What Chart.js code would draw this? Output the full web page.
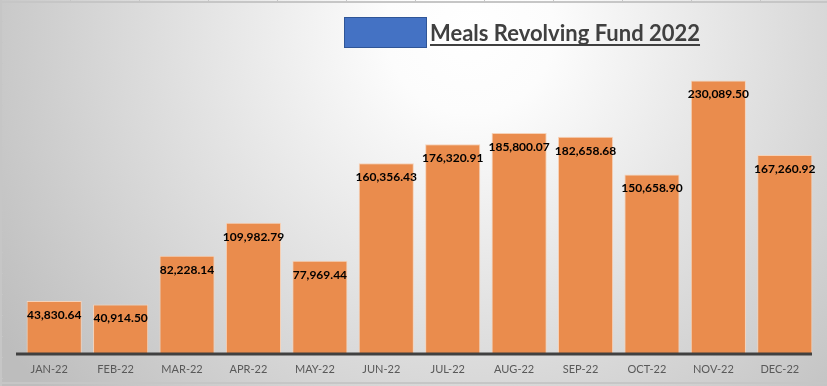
<!DOCTYPE html>
<html>
<head>
<meta charset="utf-8">
<script src="https://cdn.jsdelivr.net/npm/chart.js@4/dist/chart.umd.min.js"></script>
<style>
  html, body { margin: 0; padding: 0; background: #fff; }
  #wrap { width: 827px; height: 386px; position: relative; }
</style>
</head>
<body>
<div id="wrap"><canvas id="fundChart"></canvas></div>
<script>
const months = ['JAN-22', 'FEB-22', 'MAR-22', 'APR-22', 'MAY-22', 'JUN-22',
                'JUL-22', 'AUG-22', 'SEP-22', 'OCT-22', 'NOV-22', 'DEC-22'];
const amounts = [43830.64, 40914.50, 82228.14, 109982.79, 77969.44, 160356.43,
                 176320.91, 185800.07, 182658.68, 150658.90, 230089.50, 167260.92];
const chartTitle = 'Meals Revolving Fund 2022';

// background: soft radial gradient + sheet frame
const backdrop = {
    id: 'backdrop',
    beforeDraw(chart) {
        const c = chart.ctx;
        const w = chart.width, h = chart.height;
        const g = c.createRadialGradient(470, 30, 0, 470, 30, 560);
        g.addColorStop(0, '#ffffff');
        g.addColorStop(0.15, '#fcfcfc');
        g.addColorStop(1, '#bdbdbd');
        c.save();
        c.fillStyle = g;
        c.fillRect(0, 0, w, h);
        // frame lines
        c.strokeStyle = '#c6c6c6';
        c.lineWidth = 2;
        c.beginPath();
        c.moveTo(0, 2); c.lineTo(w, 2);
        c.moveTo(1, 0); c.lineTo(1, h);
        c.moveTo(0, h - 3); c.lineTo(w, h - 3);
        c.stroke();
        // sheet cell ticks peeking at the edges
        c.lineWidth = 1;
        c.beginPath();
        for (let y = 21; y < h - 5; y += 21) { c.moveTo(0, y + 0.5); c.lineTo(3, y + 0.5); }
        for (let x = 70; x < w; x += 69) { c.moveTo(x + 0.5, 0); c.lineTo(x + 0.5, 3); }
        c.stroke();
        c.restore();
    }
};

// title with blue legend box + underline
const titleBox = {
    id: 'titleBox',
    afterDraw(chart) {
        const c = chart.ctx;
        c.save();
        c.fillStyle = '#4472c4';
        c.fillRect(344, 17, 83, 31);
        c.strokeStyle = '#2f5597';
        c.lineWidth = 1;
        c.strokeRect(344.5, 17.5, 82, 30);
        c.font = 'bold 22px Lato';
        c.fillStyle = '#404040';
        c.textBaseline = 'alphabetic';
        c.fillText(chartTitle, 430, 41);
        const tw = c.measureText(chartTitle).width;
        c.fillRect(430, 44, tw, 2);
        c.restore();
    }
};

// axis line under the bars
const baseLine = {
    id: 'baseLine',
    afterDatasetsDraw(chart) {
        const c = chart.ctx;
        const y = chart.scales.y.getPixelForValue(0);
        c.save();
        c.strokeStyle = '#404040';
        c.lineWidth = 3;
        c.beginPath();
        c.moveTo(16, y + 1);
        c.lineTo(812, y + 1);
        c.stroke();
        c.restore();
    }
};

// value labels inside the top of each bar
const barLabels = {
    id: 'barLabels',
    afterDatasetsDraw(chart) {
        const c = chart.ctx;
        const meta = chart.getDatasetMeta(0);
        c.save();
        c.font = 'bold 12px Lato';
        c.fillStyle = '#000000';
        c.textAlign = 'center';
        c.textBaseline = 'middle';
        meta.data.forEach((bar, i) => {
            const v = amounts[i].toLocaleString('en-US', { minimumFractionDigits: 2, maximumFractionDigits: 2 });
            c.fillText(v, bar.x, bar.y + 14);
        });
        c.restore();
    }
};

const ctx = document.getElementById('fundChart');
new Chart(ctx, {
    type: 'bar',
    data: {
        labels: months,
        datasets: [{
            label: chartTitle,
            data: amounts,
            backgroundColor: '#ea8c4d',
            borderColor: '#f6d2b8',
            borderWidth: 1,
            barPercentage: 0.83,
            categoryPercentage: 1.0
        }]
    },
    options: {
        responsive: true,
        maintainAspectRatio: false,
        animation: false,
        layout: {
            padding: { left: 21, right: 9, top: 57, bottom: 0 }
        },
        plugins: {
            legend: { display: false },
            tooltip: { enabled: false }
        },
        scales: {
            x: {
                grid: { display: false, drawTicks: false },
                border: { display: false },
                ticks: {
                    font: { family: 'Lato', size: 11 },
                    color: '#595959',
                    padding: 10,
                    labelOffset: -5,
                    maxRotation: 0
                },
                afterFit(scale) { scale.height = 33; }
            },
            y: {
                display: false,
                min: 0,
                max: 250000
            }
        }
    },
    plugins: [backdrop, titleBox, baseLine, barLabels]
});
</script>
</body>
</html>
